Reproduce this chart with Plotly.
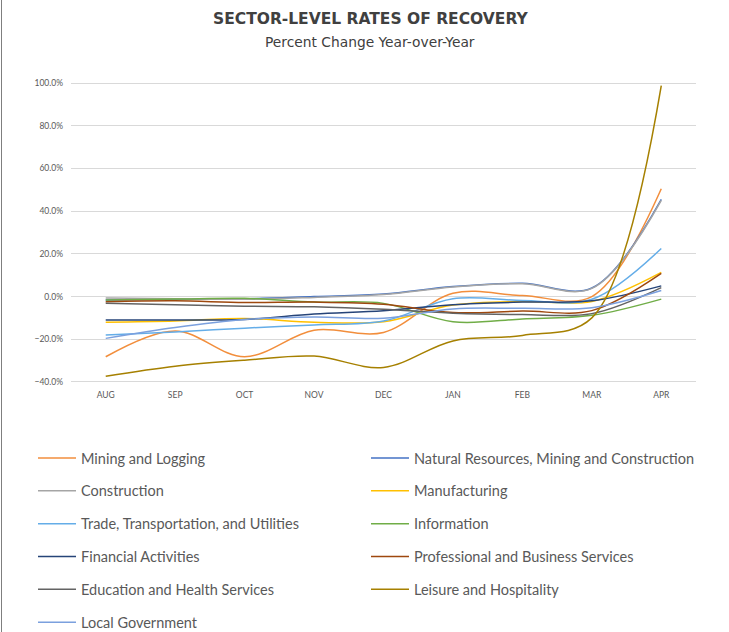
import plotly.graph_objects as go

months = ["AUG", "SEP", "OCT", "NOV", "DEC", "JAN", "FEB", "MAR", "APR"]

mining_logging = [-28.2, -16.1, -28.2, -15.8, -16.8, 1.5, 0.5, 0.0, 50.5]
natural_resources = [-1.6, -1.3, -1.1, 0.0, 1.2, 4.7, 6.2, 4.0, 45.5]
construction = [-0.7, -1.0, -1.3, -0.4, 0.9, 4.5, 6.0, 3.8, 45.0]
manufacturing = [-12.0, -11.4, -10.3, -12.0, -11.8, -4.0, -2.3, -2.3, 11.3]
trade_transport = [-18.0, -16.6, -14.8, -13.3, -11.5, -1.0, -1.8, -1.3, 22.5]
information = [-1.6, -1.2, -0.8, -2.6, -3.2, -11.8, -10.5, -8.8, -1.2]
financial = [-11.0, -11.0, -10.7, -8.2, -6.6, -3.8, -2.6, -2.0, 5.0]
professional = [-2.4, -2.0, -2.8, -2.6, -3.6, -7.5, -6.8, -6.6, 10.8]
education_health = [-3.1, -3.8, -4.5, -4.8, -6.0, -7.8, -8.4, -8.0, 4.2]
leisure_hospitality = [-37.3, -32.6, -29.8, -27.9, -33.2, -20.8, -18.2, -10.0, 98.8]
local_government = [-19.6, -14.5, -10.8, -9.6, -10.2, -5.8, -5.5, -5.2, 2.8]

series = [
    ("Mining and Logging", mining_logging, "#F28E3C"),
    ("Natural Resources, Mining and Construction", natural_resources, "#4472C4"),
    ("Construction", construction, "#A5A5A5"),
    ("Manufacturing", manufacturing, "#FFC000"),
    ("Trade, Transportation, and Utilities", trade_transport, "#64ADE8"),
    ("Information", information, "#70AD47"),
    ("Financial Activities", financial, "#264478"),
    ("Professional and Business Services", professional, "#9E480E"),
    ("Education and Health Services", education_health, "#636363"),
    ("Leisure and Hospitality", leisure_hospitality, "#A68000"),
    ("Local Government", local_government, "#7BA0DE"),
]

fig = go.Figure()
for i, (name, vals, color) in enumerate(series):
    fig.add_trace(go.Scatter(
        x=months, y=vals, name=name, mode="lines",
        line=dict(color=color, width=1.5, shape="spline", smoothing=1),
        legend="legend" if i % 2 == 0 else "legend2",
        legendgroup=name,
        hoverinfo="skip",
    ))

L, R, T, B = 71, 33, 82, 249
W, H = 729, 632
ph = H - T - B

def py(px):
    return (H - B - px) / ph

def pxx(px):
    return (px - L) / (W - L - R)

legend_common = dict(
    orientation="v", traceorder="grouped", tracegroupgap=11,
    font=dict(family="Lato, sans-serif", size=14.5, color="#595959"),
    bgcolor="rgba(0,0,0,0)", borderwidth=0,
    xanchor="left", yanchor="top", itemwidth=38,
)

fig.update_layout(
    width=W, height=H,
    margin=dict(l=L, r=R, t=T, b=B, autoexpand=False),
    paper_bgcolor="white", plot_bgcolor="white",
    showlegend=True,
    legend=dict(x=pxx(33), y=py(442), **legend_common),
    legend2=dict(x=pxx(366), y=py(442), **legend_common),
    xaxis=dict(
        type="category", range=[-0.5, 8.5], showgrid=False, zeroline=False,
        showline=False, ticks="", ticklabelstandoff=5,
        tickfont=dict(family="Lato, sans-serif", size=8.5, color="#595959"),
    ),
    yaxis=dict(
        range=[-40.5, 100.5], dtick=20, tick0=0, tickformat=".1f", ticksuffix="%",
        showgrid=True, gridcolor="#D9D9D9", gridwidth=1,
        zeroline=False, showline=False, ticks="", ticklabelstandoff=7,
        tickfont=dict(family="Lato, sans-serif", size=8.5, color="#595959"),
    ),
    annotations=[
        dict(text="<b>SECTOR-LEVEL RATES OF RECOVERY</b>", xref="paper", yref="paper",
             x=pxx(371), y=py(19), xanchor="center", yanchor="middle", showarrow=False,
             font=dict(family="DejaVu Sans, sans-serif", size=15.5, color="#404040")),
        dict(text="Percent Change Year-over-Year", xref="paper", yref="paper",
             x=pxx(370), y=py(42), xanchor="center", yanchor="middle", showarrow=False,
             font=dict(family="DejaVu Sans, sans-serif", size=13.8, color="#404040")),
    ],
    shapes=[
        dict(type="line", xref="paper", yref="paper", x0=pxx(1.5), x1=pxx(1.5),
             y0=py(0), y1=py(632), line=dict(color="#7F7F7F", width=1)),
    ],
)

fig.write_html("out.html", config={"displayModeBar": False},
               post_script="document.body.style.margin='0';")
